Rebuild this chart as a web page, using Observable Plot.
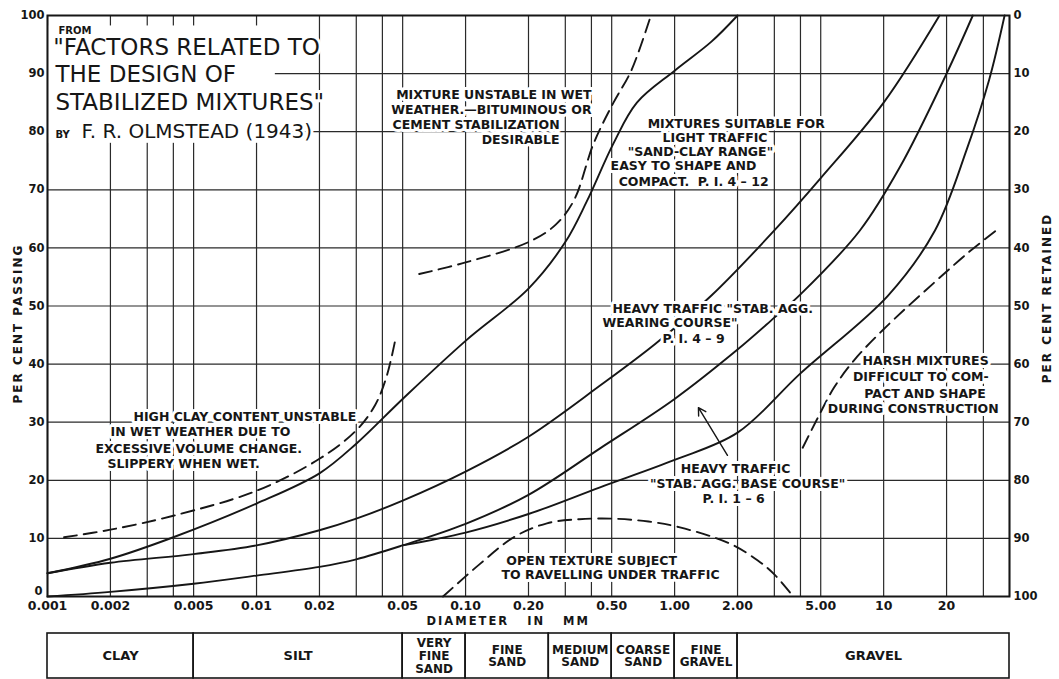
<!DOCTYPE html>
<html><head><meta charset="utf-8">
<script src="https://cdn.jsdelivr.net/npm/d3@7"></script>
<script src="https://cdn.jsdelivr.net/npm/@observablehq/plot@0.6"></script>
<style>
html,body{margin:0;padding:0;background:#fff;overflow:hidden;}
#chart svg{display:block;}
</style></head><body><div id="chart"></div>
<script>
// ---------- data (grain size in mm, percent passing) ----------
const aSize = [0.001, 0.002, 0.004, 0.01, 0.02, 0.03, 0.05, 0.1, 0.2, 0.3, 0.38, 0.51, 0.66, 1.0, 1.5, 2.0];
const aPass = [4, 6.5, 10.2, 16, 21.2, 26.3, 34, 44, 53, 61, 68, 78, 85, 90.5, 95.5, 100];
const bSize = [0.001, 0.002, 0.005, 0.01, 0.02, 0.03, 0.05, 0.1, 0.2, 0.44, 0.81, 1.5, 3.0, 5.0, 10, 18.5];
const bPass = [4, 5.8, 7.3, 8.8, 11.4, 13.4, 16.5, 21.5, 27.5, 36.3, 43.5, 51.8, 63, 72, 85, 100];
const cSize = [0.001, 0.002, 0.005, 0.01, 0.02, 0.03, 0.05, 0.1, 0.2, 0.44, 1.0, 2.0, 3.0, 4.0, 7.7, 12, 20, 26.7];
const cPass = [0, 0.8, 2.2, 3.6, 5.1, 6.4, 8.8, 12.5, 17.5, 25.5, 34, 42.5, 48, 52, 63, 74, 90, 100];
const dSize = [0.05, 0.1, 0.2, 0.44, 1.0, 2.0, 4.0, 10.5, 17.6, 25, 32, 37.9];
const dPass = [8.8, 11, 14.2, 18.8, 23.5, 28.2, 38.4, 51.8, 63, 77, 89, 100];
// dashed boundaries
const clayDashSize = [0.0012, 0.002, 0.004, 0.01, 0.02, 0.03, 0.037, 0.042, 0.046];
const clayDashPass = [10.2, 11.5, 13.9, 18.2, 23.7, 28.6, 33, 38, 44];
const wetDashSize = [0.06, 0.1, 0.2, 0.27, 0.33, 0.41, 0.51, 0.62, 0.77];
const wetDashPass = [55.5, 57.5, 61, 64, 68.2, 78, 85, 90.5, 100];
const openDashSize = [0.078, 0.118, 0.17, 0.245, 0.35, 0.51, 0.75, 1.06, 1.84, 2.5, 3.0, 3.6];
const openDashPass = [0, 5.7, 10.2, 12.6, 13.3, 13.4, 12.9, 11.9, 9.1, 6.2, 3.8, 0.5];
const harshDashSize = [4.1, 4.8, 5.8, 7.2, 10, 17.3, 26, 36];
const harshDashPass = [25.6, 30.5, 36, 40.6, 46, 53.9, 59.5, 63.5];
const arrowFrom = [1.79, 24.3];
const arrowTo = [1.30, 32.5];

// grid & ticks
const gridSizes = [0.001,0.002,0.003,0.004,0.005,0.01,0.02,0.03,0.04,0.05,0.1,0.2,0.3,0.4,0.5,1,2,3,4,5,10,20,30,40];
const gridPass = [10,20,30,40,50,60,70,80,90];
const tickVals = [0.001,0.002,0.005,0.01,0.02,0.05,0.1,0.2,0.5,1,2,5,10,20];
const tickText = ["0.001","0.002","0.005","0.01","0.02","0.05","0.10","0.20","0.50","1.00","2.00","5.00","10","20"];
const passTicks = [10,20,30,40,50,60,70,80,90,100];
const retainedTicks = [0,10,20,30,40,50,60,70,80,90,100];

// soil classes table
const zoneEdges = [0.001, 0.005, 0.05, 0.1, 0.25, 0.5, 1, 2, 40];
const zoneNames = ["CLAY","SILT","VERY\nFINE\nSAND","FINE\nSAND","MEDIUM\nSAND","COARSE\nSAND","FINE\nGRAVEL","GRAVEL"];

// title block
const titleText = ["\"FACTORS RELATED TO", "THE DESIGN OF", "STABILIZED MIXTURES\""];
const titleSize = [0.001065, 0.001092, 0.001092];
const titlePass = [93.12, 88.47, 83.65];
const authorText = ["F. R. OLMSTEAD (1943)"];
const authorSize = [0.001455];
const authorPass = [78.83];
const smallText = ["FROM", "BY"];
const smallSize = [0.001129, 0.001092];
const smallPass = [96.9, 78.83];
const titleMask = [0.001, 0.0123, 78.0, 98.2];

// annotations: text, size (mm), pass (%), anchor
const noteText = [
  "HIGH CLAY CONTENT UNSTABLE", "IN WET WEATHER DUE TO", "EXCESSIVE VOLUME CHANGE.", "SLIPPERY WHEN WET.",
  "HEAVY TRAFFIC \"STAB. AGG.", "WEARING COURSE\"", "P. I. 4 – 9",
  "MIXTURES SUITABLE FOR", "LIGHT TRAFFIC", "\"SAND-CLAY RANGE\"", "EASY TO SHAPE AND", "COMPACT.  P. I. 4 – 12",
  "MIXTURE UNSTABLE IN WET", "WEATHER.—BITUMINOUS OR", "CEMENT STABILIZATION", "DESIRABLE",
  "HARSH MIXTURES", "DIFFICULT TO COM-", "PACT AND SHAPE", "DURING CONSTRUCTION",
  "HEAVY TRAFFIC", "\"STAB. AGG. BASE COURSE\"", "P. I. 1 – 6",
  "OPEN TEXTURE SUBJECT", "TO RAVELLING UNDER TRAFFIC"
];
const noteSize = [
  0.002579, 0.002002, 0.001697, 0.001937,
  0.505, 0.452, 0.876,
  0.743, 0.876, 0.596, 0.494, 0.540,
  0.4008, 0.4008, 0.2817, 0.2817,
  31.8, 31.8, 30.8, 35.5,
  1.958, 2.235, 1.916,
  0.4008, 0.494
];
const notePass = [
  30.29, 27.71, 24.78, 22.20,
  48.88, 46.30, 43.55,
  80.72, 78.31, 75.90, 73.49, 70.74,
  85.71, 83.13, 80.38, 77.80,
  39.76, 37.01, 34.25, 31.50,
  21.34, 18.76, 16.01,
  5.34, 2.93
];
const noteAnchor = [
  "start","start","start","start",
  "start","start","start",
  "start","start","start","start","start",
  "end","end","end","end",
  "end","end","end","end",
  "middle","middle","middle",
  "middle","middle"
];
const diameterLabel = "DIAMETER\u00a0\u00a0 IN\u00a0\u00a0 MM";
const diameterAt = 0.16;
const passTitle = "PER CENT PASSING";
const retainedTitle = "PER CENT RETAINED";

// ---------- build ----------
const rows = (xs, ys) => xs.map((d, i) => ({d, p: ys[i]}));
const notes = noteText.map((t, i) => ({t, d: noteSize[i], p: notePass[i], a: noteAnchor[i]}));
const INK = "#161616";
const FONT = "'DejaVu Sans', 'Liberation Sans', sans-serif";
const halo = {stroke: "white", strokeWidth: 6, paintOrder: "stroke", fill: INK};
const noteMark = (anchor) => Plot.text(notes.filter(n => n.a === anchor), {
  x: "d", y: "p", text: "t", textAnchor: anchor, lineAnchor: "bottom",
  fontSize: 12.5, fontWeight: "bold", ...halo
});
const solid = {x: "d", y: "p", curve: "catmull-rom", stroke: INK, strokeWidth: 1.9};
const dashed = {...solid, strokeDasharray: "13,7"};

const main = Plot.plot({
  width: 1059, height: 630,
  marginTop: 15, marginBottom: 34, marginLeft: 47, marginRight: 50,
  x: {type: "log", domain: [0.001, 40], label: null, axis: null},
  y: {domain: [0, 100], label: null},
  style: {fontFamily: FONT, fontWeight: "bold", fontSize: "11px", color: INK, background: "#fff"},
  marks: [
    Plot.ruleY(gridPass, {stroke: "#2a2a2a", strokeWidth: 1.2}),
    Plot.ruleX(gridSizes, {stroke: "#2a2a2a", strokeWidth: 1.2}),
    Plot.rect([titleMask], {x1: d => d[0], x2: d => d[1], y1: d => d[2], y2: d => d[3], fill: "white"}),
    Plot.line(rows(aSize, aPass), solid),
    Plot.line(rows(bSize, bPass), solid),
    Plot.line(rows(cSize, cPass), solid),
    Plot.line(rows(dSize, dPass), solid),
    Plot.line(rows(clayDashSize, clayDashPass), dashed),
    Plot.line(rows(wetDashSize, wetDashPass), dashed),
    Plot.line(rows(openDashSize, openDashPass), dashed),
    Plot.line(rows(harshDashSize, harshDashPass), dashed),
    Plot.arrow([0], {x1: () => arrowFrom[0], y1: () => arrowFrom[1], x2: () => arrowTo[0], y2: () => arrowTo[1],
      stroke: INK, strokeWidth: 1.4, headLength: 9}),
    noteMark("start"), noteMark("end"), noteMark("middle"),
    Plot.text(titleText, {x: (d, i) => titleSize[i], y: (d, i) => titlePass[i], text: d => d,
      textAnchor: "start", lineAnchor: "bottom", fontSize: 23, fontWeight: "normal", ...halo}),
    Plot.text(authorText, {x: (d, i) => authorSize[i], y: (d, i) => authorPass[i], text: d => d,
      textAnchor: "start", lineAnchor: "bottom", fontSize: 20, fontWeight: "normal", ...halo}),
    Plot.text(smallText, {x: (d, i) => smallSize[i], y: (d, i) => smallPass[i], text: d => d,
      textAnchor: "start", lineAnchor: "bottom", fontSize: 10, fontWeight: "bold", ...halo}),
    Plot.frame({stroke: INK, strokeWidth: 2}),
    // x tick labels
    Plot.text(tickVals, {x: d => d, text: (d, i) => tickText[i], frameAnchor: "bottom", lineAnchor: "middle", dy: 9, fontSize: 12.5, fill: INK}),
    // left / right axes
    Plot.axisY({anchor: "left", ticks: passTicks, tickSize: 0, tickPadding: 3, fontSize: 11.5, label: null}),
    Plot.text([0], {y: d => d, text: d => String(d), frameAnchor: "left", textAnchor: "end", lineAnchor: "middle", dx: -5, dy: -5, fontSize: 11.5, fill: INK}),
    Plot.axisY({anchor: "right", ticks: retainedTicks, tickFormat: d => String(100 - d), tickSize: 0, tickPadding: 4, fontSize: 11.5, label: null}),
    // axis titles
    Plot.text([diameterLabel], {x: () => diameterAt, frameAnchor: "bottom", lineAnchor: "middle", textAnchor: "middle", dy: 25, text: d => d, fontSize: 11.5, fill: INK}),
    Plot.text([passTitle], {frameAnchor: "left", textAnchor: "middle", lineAnchor: "middle", dx: -29, dy: 17.5, rotate: -90, text: d => d, fontSize: 12, fill: INK}),
    Plot.text([retainedTitle], {frameAnchor: "right", textAnchor: "middle", lineAnchor: "middle", dx: 38, dy: -8, rotate: -90, text: d => d, fontSize: 12, fill: INK})
  ]
});
const spaced = [diameterLabel, passTitle, retainedTitle];
d3.select(main).selectAll("text").filter(function () { return spaced.includes(this.textContent); })
  .style("letter-spacing", "2px");

const zones = zoneNames.map((name, i) => ({name, x1: zoneEdges[i], x2: zoneEdges[i + 1], mid: Math.sqrt(zoneEdges[i] * zoneEdges[i + 1])}));
const table = Plot.plot({
  width: 1059, height: 49,
  marginTop: 3, marginBottom: 1, marginLeft: 47, marginRight: 50,
  x: {type: "log", domain: [0.001, 40], axis: null},
  y: {domain: [0, 1], axis: null},
  style: {fontFamily: FONT, fontWeight: "bold", fontSize: "12px", color: INK, background: "#fff"},
  marks: [
    Plot.rect(zones, {x1: "x1", x2: "x2", y1: () => 0, y2: () => 1, fill: "none", stroke: INK, strokeWidth: 1.6}),
    Plot.text(zones, {x: "mid", y: () => 0.5, text: "name", fontSize: d => d.name.includes("\n") ? 12 : 13, lineHeight: 1.05, fill: INK})
  ]
});
document.getElementById("chart").append(main, table);
</script>
</body></html>
